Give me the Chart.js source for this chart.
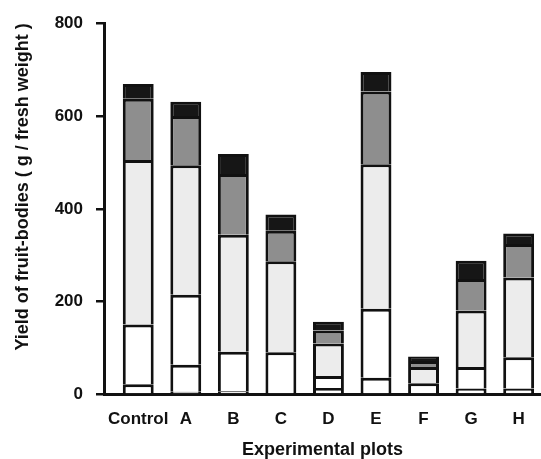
<!DOCTYPE html>
<html>
<head>
<meta charset="utf-8">
<script src="https://cdn.jsdelivr.net/npm/chart.js@4.4.1/dist/chart.umd.min.js"></script>
<style>
  html, body { margin: 0; padding: 0; background: #fff; }
  #wrap { width: 541px; height: 459px; position: relative; }
</style>
</head>
<body>
<div id="wrap"><canvas id="yieldChart"></canvas></div>
<script>
// Plots on the x axis
const plots = ["Control", "A", "B", "C", "D", "E", "F", "G", "H"];

// Stacked layers, bottom to top (g / fresh weight)
const layer1 = [22, 6, 7, 0, 14, 36, 0, 13, 13];
const layer2 = [129, 58, 85, 91, 26, 149, 24, 46, 67];
const layer3 = [0, 151, 0, 0, 0, 0, 0, 0, 0];
const layer4 = [354, 279, 252, 196, 70, 311, 35, 122, 172];
const layer5 = [132, 106, 131, 66, 28, 157, 13, 68, 72];
const layer6 = [32, 31, 43, 35, 19, 42, 10, 39, 23];

const yTicks = [0, 200, 400, 600, 800];

const layers = [layer1, layer2, layer3, layer4, layer5, layer6];
const fills = ["#ffffff", "#ffffff", "#ffffff", "#ececec", "#8e8e8e", "#161616"];

const ink = "#111111";
const fontFamily = "'Liberation Sans', Arial, Helvetica, sans-serif";

const datasets = layers.map((values, i) => ({
  label: "Layer " + (i + 1),
  data: values.map((v, j) => ({ x: j, y: v })),
  backgroundColor: fills[i],
  borderColor: ink,
  borderWidth: 3,
  borderSkipped: "start",
  categoryPercentage: 1,
  barPercentage: 0.65
}));

new Chart(document.getElementById("yieldChart").getContext("2d"), {
  type: "bar",
  data: { datasets },
  options: {
    responsive: true,
    maintainAspectRatio: false,
    animation: false,
    layout: { padding: { top: 17.5, right: 0, bottom: 0, left: 0 } },
    plugins: {
      legend: { display: false },
      tooltip: { enabled: false }
    },
    scales: {
      x: {
        type: "linear",
        stacked: true,
        offset: false,
        min: -0.72,
        max: 8.47,
        afterFit: (scale) => {
          scale.height = 64.5;
          scale.paddingLeft = 0;
          scale.paddingRight = 0;
        },
        afterBuildTicks: (scale) => {
          scale.ticks = plots.map((_, i) => ({ value: i }));
        },
        grid: { display: true, offset: false, drawOnChartArea: false, drawTicks: false },
        border: { display: true, color: ink, width: 3 },
        ticks: {
          autoSkip: false,
          maxRotation: 0,
          minRotation: 0,
          padding: 15,
          color: ink,
          font: { family: fontFamily, size: 17, weight: "bold" },
          callback: (v) => plots[v]
        },
        title: {
          display: true,
          text: "Experimental plots",
          color: ink,
          padding: { top: 0, bottom: -2 },
          font: { family: fontFamily, size: 18, weight: "bold" }
        }
      },
      y: {
        stacked: true,
        min: 0,
        max: 800,
        afterFit: (scale) => { scale.width = 104; },
        afterBuildTicks: (scale) => {
          scale.ticks = yTicks.map((v) => ({ value: v }));
        },
        grid: {
          drawOnChartArea: false,
          drawTicks: true,
          tickLength: 8,
          lineWidth: 2.5,
          color: ink
        },
        border: { display: true, color: ink, width: 3 },
        ticks: {
          padding: 13,
          color: ink,
          font: { family: fontFamily, size: 17, weight: "bold" }
        },
        title: {
          display: true,
          text: "Yield of fruit-bodies ( g / fresh weight )",
          align: "end",
          color: ink,
          padding: { top: 12, bottom: 0 },
          font: { family: fontFamily, size: 18, weight: "bold" }
        }
      }
    }
  }
});
</script>
</body>
</html>
